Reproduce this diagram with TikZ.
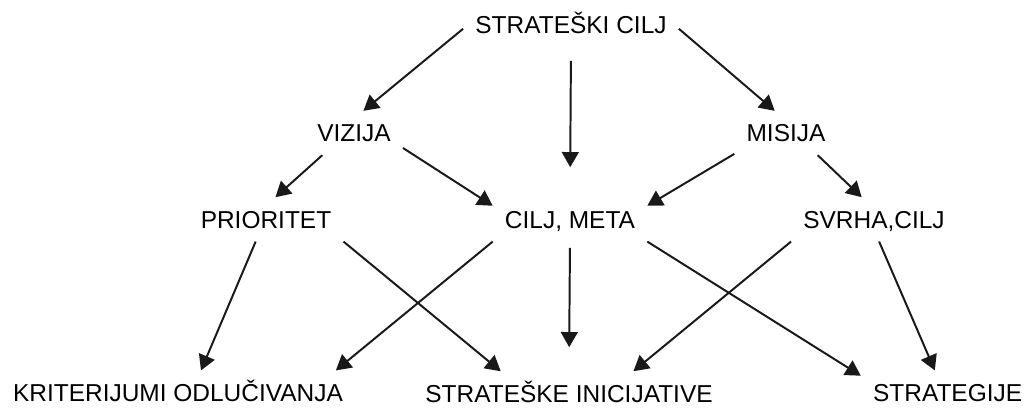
\documentclass[tikz,border=0pt]{standalone}
\usepackage{fontspec}
\setmainfont{Liberation Sans}
\usetikzlibrary{arrows.meta}

\tikzset{
    lbl/.style={font=\fontsize{17.4}{20}\selectfont, text height=0.435cm, text depth=0pt,
        inner xsep=0.3cm, inner ysep=0.33cm},
    arr/.style={-{Triangle[length=10.8pt,width=12pt]}, line width=1.4pt, black!90}
}

\begin{document}
\begin{tikzpicture}
    \useasboundingbox (0,0) rectangle (25.6,10.175);

    % Top
    \node[lbl] (cilj) at (14.275, 9.55) {STRATEŠKI CILJ};

    % Second level
    \node[lbl] (vizija) at (8.85, 6.85) {VIZIJA};
    \node[lbl] (misija) at (19.65, 6.85) {MISIJA};

    % Third level
    \node[lbl] (prioritet) at (6.65, 4.69) {PRIORITET};
    \node[lbl] (meta) at (14.25, 4.69) {CILJ, META};
    \node[lbl] (svrha) at (21.85, 4.69) {SVRHA,CILJ};

    % Bottom
    \node[lbl] (kriterij) at (4.45, 0.36) {KRITERIJUMI ODLUČIVANJA};
    \node[lbl] (inicijat) at (14.225, 0.34) {STRATEŠKE INICIJATIVE};
    \node[lbl] (strategije) at (23.69, 0.36) {STRATEGIJE};

    % Arrows from the top
    \draw[arr] (cilj.182) -- (vizija.67);
    \draw[arr, shorten <=0.34cm, shorten >=0.75cm] (cilj.south) -- (meta.north);
    \draw[arr] (cilj.358) -- (misija.117);

    % Arrows from vizija and misija
    \draw[arr] (vizija.215) -- (prioritet.67);
    \draw[arr] (vizija.343) -- (meta.170);
    \draw[arr] (misija.202) -- (meta.10);
    \draw[arr] (misija.325) -- (svrha.119);

    % Arrows down to the bottom row
    \draw[arr] (prioritet.245) -- (kriterij.44);
    \draw[arr] (prioritet.south east) -- (inicijat.162);
    \draw[arr] (meta.south west) -- (kriterij.8);
    \draw[arr, shorten <=0.16cm, shorten >=0.6cm] (meta.south) -- (inicijat.north);
    \draw[arr] (meta.south east) -- (strategije.169);
    \draw[arr] (svrha.south west) -- (inicijat.19);
    \draw[arr] (svrha.283) -- (strategije.120);
\end{tikzpicture}
\end{document}
